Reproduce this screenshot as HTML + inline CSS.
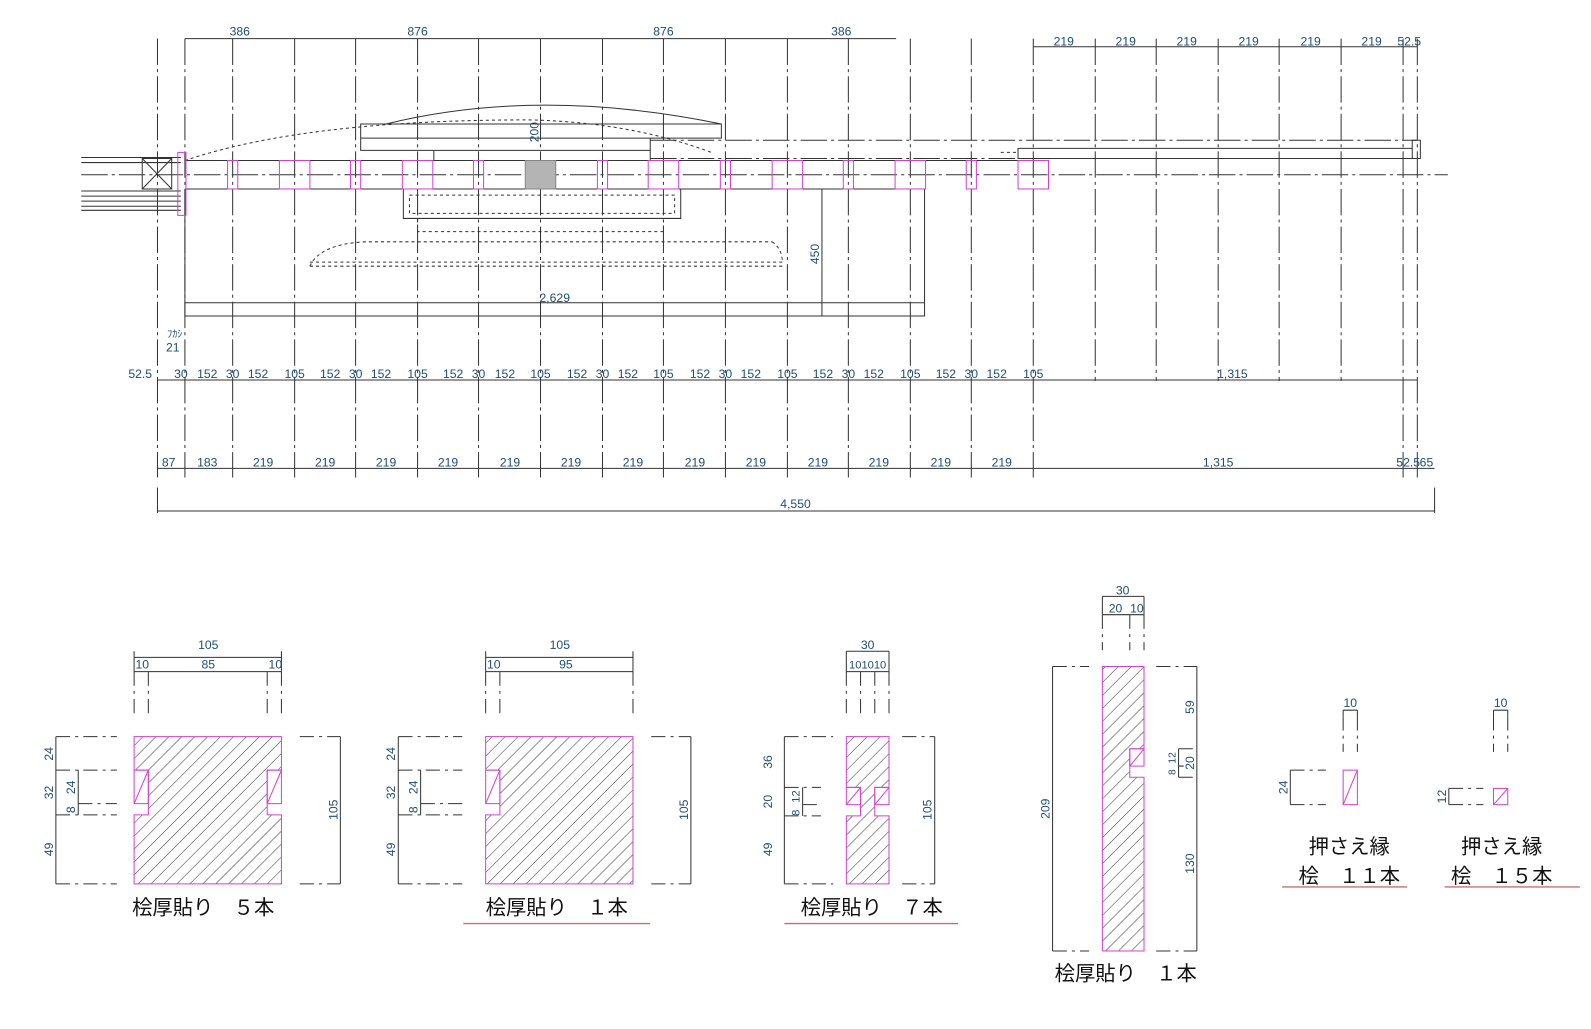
<!DOCTYPE html>
<html><head><meta charset="utf-8"><style>
html,body{margin:0;padding:0;background:#fff;width:1591px;height:1029px;overflow:hidden}
svg{display:block}
.d{font-family:"Liberation Sans","Noto Sans CJK JP",sans-serif;font-size:12px;fill:#1e4d78;text-anchor:middle}
.j{font-family:"Liberation Sans","Noto Sans CJK JP",sans-serif;font-size:20px;fill:#111;text-anchor:middle}
.g{stroke:#333;stroke-width:1;stroke-dasharray:26,4,3,4;fill:none}
.l{stroke:#333;stroke-width:1;fill:none}
.dl{stroke:#333;stroke-width:1;stroke-dasharray:3,3;fill:none}
.p{stroke:#d63fd6;stroke-width:1;fill:none}
.ext{stroke:#333;stroke-width:1;stroke-dasharray:14,5,3,5;fill:none}
.r{stroke:#c47070;stroke-width:1.3}
</style></head><body>
<svg width="1591" height="1029" viewBox="0 0 1591 1029" xmlns="http://www.w3.org/2000/svg">
<defs>
<pattern id="h" patternUnits="userSpaceOnUse" width="9" height="9" patternTransform="rotate(45)">
<line x1="0" y1="0" x2="0" y2="9" stroke="#333" stroke-width="1"/></pattern>
</defs>
<g transform="scale(1.016)">
<!-- grid lines -->
<g class="g">
<path d="M155 38V470M182 38V470M229 38V470M290 38V470M350 38V470M411 38V470M471 38V470M532 38V470M593 38V470M653 38V470M714 38V470M775 38V470M835 38V470M896 38V470M956 38V470M1017 38V470M1078 38V375M1138 38V375M1199 38V375M1259 38V375M1320 38V375M1381 38V470M1395 38V470M1412 480V505M155 480V505"/>
<path d="M80 172H1425"/>
<path d="M640 138H1395M640 156H1395"/>
</g>
<!-- top dimensions -->
<path class="l" d="M182 38H882M1017 46H1395"/>
<g class="d">
<text x="236" y="35">386</text><text x="411" y="35">876</text><text x="653" y="35">876</text><text x="828" y="35">386</text>
<text x="1047" y="45">219</text><text x="1108" y="45">219</text><text x="1168" y="45">219</text><text x="1229" y="45">219</text><text x="1290" y="45">219</text><text x="1350" y="45">219</text><text x="1387" y="45">52.5</text>
</g>
<!-- structure -->
<path class="l" d="M380 122Q530 85 710 122M355 122H710V136H355ZM355 136V148H427V158M427 148H640M640 136V158"/>
<path class="dl" d="M182 158Q300 118 520 118Q620 120 700 150"/>
<path class="l" d="M182 158H1017M182 186H910M182 186V311H910V186M182 298H910M809 186V311"/>
<path class="l" d="M397 186V215H670V186"/>
<rect class="dl" x="403" y="192" width="261" height="18"/>
<path class="dl" d="M411 215V228H653V215M305 262Q315 240 360 238H760M305 262H770M305 258H770M760 238Q770 245 770 258"/>
<path class="l" d="M1002 146H1390V156H1002ZM1390 138H1398V156H1390Z"/>
<path class="dl" d="M985 150H1002"/>
<!-- left stub -->
<path class="l" d="M80 155H178M80 160H178M80 188H178M80 193H178M80 198H178M80 203H178M80 207H178"/>
<rect class="l" x="140" y="156" width="29" height="30"/><path class="l" d="M140 156L169 186M169 156L140 186"/>
<rect class="p" x="175" y="150" width="8" height="62"/>
<!-- pink posts -->
<g class="p">
<rect x="224" y="158" width="10" height="28"/><rect x="345" y="158" width="10" height="28"/><rect x="466" y="158" width="10" height="28"/><rect x="588" y="158" width="10" height="28"/><rect x="709" y="158" width="10" height="28"/><rect x="830" y="158" width="10" height="28"/><rect x="951" y="158" width="10" height="28"/>
<rect x="275" y="158" width="30" height="28"/><rect x="396" y="158" width="30" height="28"/><rect x="638" y="158" width="30" height="28"/><rect x="760" y="158" width="30" height="28"/><rect x="881" y="158" width="30" height="28"/><rect x="1002" y="158" width="30" height="28"/>
</g>
<rect x="517" y="158" width="30" height="28" fill="#b4b4b4" stroke="#888"/>
<g class="d">
<text transform="translate(530 130) rotate(-90)">200</text>
<text transform="translate(806 250) rotate(-90)">450</text>
<text x="546" y="297">2,629</text>
<text x="172" y="332" style="font-size:10px">ﾌｶｼ</text><text x="170" y="346">21</text>
</g>
<!-- dim row 1 -->
<path class="l" d="M155 374H1395"/>
<g class="d">
<text x="138" y="372">52.5</text>
<text x="178" y="372">30</text><text x="204" y="372">152</text><text x="229" y="372">30</text><text x="254" y="372">152</text><text x="290" y="372">105</text><text x="325" y="372">152</text><text x="350" y="372">30</text><text x="375" y="372">152</text><text x="411" y="372">105</text><text x="446" y="372">152</text><text x="471" y="372">30</text><text x="497" y="372">152</text><text x="532" y="372">105</text><text x="568" y="372">152</text><text x="593" y="372">30</text><text x="618" y="372">152</text><text x="653" y="372">105</text><text x="689" y="372">152</text><text x="714" y="372">30</text><text x="739" y="372">152</text><text x="775" y="372">105</text><text x="810" y="372">152</text><text x="835" y="372">30</text><text x="860" y="372">152</text><text x="896" y="372">105</text><text x="931" y="372">152</text><text x="956" y="372">30</text><text x="981" y="372">152</text><text x="1017" y="372">105</text><text x="1213" y="372">1,315</text>
</g>
<!-- dim row 2 -->
<path class="l" d="M155 461H1412M155 503H1412"/>
<g class="d">
<text x="166" y="459">87</text><text x="204" y="459">183</text>
<text x="259" y="459">219</text><text x="320" y="459">219</text><text x="380" y="459">219</text><text x="441" y="459">219</text><text x="502" y="459">219</text><text x="562" y="459">219</text><text x="623" y="459">219</text><text x="684" y="459">219</text><text x="744" y="459">219</text><text x="805" y="459">219</text><text x="865" y="459">219</text><text x="926" y="459">219</text><text x="986" y="459">219</text>
<text x="1199" y="459">1,315</text><text x="1386" y="459">52.5</text><text x="1404" y="459">65</text>
<text x="783" y="500">4,550</text>
</g>

<!-- SECTION 1 -->
<g>
<path class="l" d="M132 647H277M132 661H277M132 641V661M277 641V661"/>
<path class="ext" d="M132 661V705M146 661V705M263 661V705M277 661V705"/>
<g class="d"><text x="205" y="639">105</text><text x="140" y="658">10</text><text x="205" y="658">85</text><text x="271" y="658">10</text></g>
<path d="M132 725H277V758H263V802H277V870H132V802H146V758H132Z" fill="url(#h)" stroke="#d63fd6"/>
<rect x="132" y="758" width="14" height="33" fill="#fff" class="p"/><path class="p" d="M132 791L146 758"/>
<rect x="263" y="758" width="14" height="33" fill="#fff" class="p"/><path class="p" d="M263 791L277 758"/>
<path class="ext" d="M55 725H115M55 758H115M55 802H115M55 870H115M295 725H335M295 870H335M77 791H115"/>
<path class="l" d="M55 725V870M77 758V802M335 725V870"/>
<g class="d">
<text transform="translate(52 742) rotate(-90)">24</text><text transform="translate(52 780) rotate(-90)">32</text><text transform="translate(52 836) rotate(-90)">49</text>
<text transform="translate(74 775) rotate(-90)">24</text><text transform="translate(74 797) rotate(-90)">8</text>
<text transform="translate(332 797) rotate(-90)">105</text></g>
<text class="j" x="200" y="900">桧厚貼り　５本</text>
</g>

<!-- SECTION 2 -->
<g>
<path class="l" d="M478 647H623M478 661H623M478 641V661M623 641V661"/>
<path class="ext" d="M478 661V705M492 661V705M623 661V705"/>
<g class="d"><text x="551" y="639">105</text><text x="486" y="658">10</text><text x="557" y="658">95</text></g>
<path d="M478 725H623V870H478V802H492V758H478Z" fill="url(#h)" stroke="#d63fd6"/>
<rect x="478" y="758" width="14" height="33" fill="#fff" class="p"/><path class="p" d="M478 791L492 758"/>
<path class="ext" d="M392 725H455M392 758H455M392 802H455M392 870H455M641 725H680M641 870H680M414 791H455"/>
<path class="l" d="M392 725V870M414 758V802M680 725V870"/>
<g class="d">
<text transform="translate(389 742) rotate(-90)">24</text><text transform="translate(389 780) rotate(-90)">32</text><text transform="translate(389 836) rotate(-90)">49</text>
<text transform="translate(411 775) rotate(-90)">24</text><text transform="translate(411 797) rotate(-90)">8</text>
<text transform="translate(677 797) rotate(-90)">105</text></g>
<text class="j" x="548" y="900">桧厚貼り　１本</text>
<path class="r" d="M456 909H640"/>
</g>

<!-- SECTION 3 -->
<g>
<path class="l" d="M833 641H875M833 661H875M833 641V661M875 641V661"/>
<path class="ext" d="M833 661V705M847 661V705M861 661V705M875 661V705"/>
<g class="d"><text x="854" y="639">30</text><text x="854" y="658" style="font-size:11px">101010</text></g>
<path d="M833 725H875V775H861V803H875V870H833V803H847V775H833Z" fill="url(#h)" stroke="#d63fd6"/>
<rect x="833" y="775" width="14" height="17" fill="#fff" class="p"/><path class="p" d="M833 792L847 775"/>
<rect x="861" y="775" width="14" height="17" fill="#fff" class="p"/><path class="p" d="M861 792L875 775"/>
<path class="ext" d="M772 725H820M772 775H808M772 803H808M772 870H820M888 725H920M888 870H920M790 792H808"/>
<path class="l" d="M772 725V870M790 775V803M920 725V870"/>
<g class="d">
<text transform="translate(760 750) rotate(-90)">36</text><text transform="translate(760 789) rotate(-90)">20</text><text transform="translate(760 836) rotate(-90)">49</text>
<text transform="translate(787 784) rotate(-90)" style="font-size:11px">12</text><text transform="translate(787 800) rotate(-90)" style="font-size:11px">8</text>
<text transform="translate(917 797) rotate(-90)">105</text></g>
<text class="j" x="858" y="900">桧厚貼り　７本</text>
<path class="r" d="M772 909H943"/>
</g>

<!-- SECTION 4 -->
<g>
<path class="l" d="M1085 587H1126M1085 605H1126M1085 587V605M1126 587V605"/>
<path class="ext" d="M1085 605V640M1112 605V640M1126 605V640"/>
<g class="d"><text x="1105" y="585">30</text><text x="1098" y="603">20</text><text x="1119" y="603">10</text></g>
<path d="M1085 656H1126V737H1112V765H1126V936H1085Z" fill="url(#h)" stroke="#d63fd6"/>
<rect x="1112" y="737" width="14" height="17" fill="#fff" class="p"/><path class="p" d="M1112 754L1126 737"/>
<path class="ext" d="M1036 656H1072M1036 936H1072M1138 656H1178M1138 936H1178M1160 737H1178M1160 765H1178M1160 754H1165"/>
<path class="l" d="M1036 656V936M1178 656V936M1160 737V765"/>
<g class="d">
<text transform="translate(1033 796) rotate(-90)">209</text>
<text transform="translate(1175 696) rotate(-90)">59</text><text transform="translate(1175 751) rotate(-90)">20</text><text transform="translate(1175 850) rotate(-90)">130</text>
<text transform="translate(1157 746) rotate(-90)" style="font-size:10px">12</text><text transform="translate(1157 760) rotate(-90)" style="font-size:10px">8</text></g>
<text class="j" x="1108" y="965">桧厚貼り　１本</text>
</g>

<!-- small pieces -->
<g>
<path class="l" d="M1322 699H1336M1322 699V705M1336 699V705"/>
<path class="ext" d="M1322 705V740M1336 705V740"/>
<text class="d" x="1329" y="696">10</text>
<rect class="p" x="1322" y="758" width="14" height="34"/><path class="p" d="M1322 792L1336 758"/>
<path class="ext" d="M1270 758H1305M1270 792H1305"/><path class="l" d="M1270 758V792"/>
<text class="d" transform="translate(1267 775) rotate(-90)">24</text>
<text class="j" x="1328" y="840">押さえ縁</text>
<text class="j" x="1328" y="869">桧　１１本</text>
<path class="r" d="M1262 873H1385"/>
</g>
<g>
<path class="l" d="M1470 699H1484M1470 699V705M1484 699V705"/>
<path class="ext" d="M1470 705V740M1484 705V740"/>
<text class="d" x="1477" y="696">10</text>
<rect class="p" x="1470" y="776" width="14" height="16"/><path class="p" d="M1470 792L1484 776"/>
<path class="ext" d="M1426 776H1460M1426 792H1460"/><path class="l" d="M1426 776V792"/>
<text class="d" transform="translate(1423 784) rotate(-90)">12</text>
<text class="j" x="1478" y="840">押さえ縁</text>
<text class="j" x="1478" y="869">桧　１５本</text>
<path class="r" d="M1422 873H1555"/>
</g>
</g>
</svg>
</body></html>
